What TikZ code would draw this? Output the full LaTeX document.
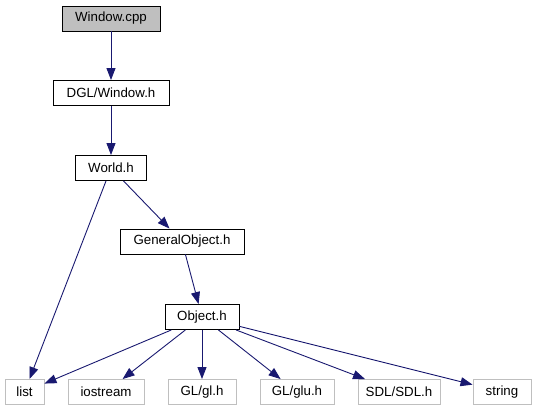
\documentclass[tikz,border=0pt]{standalone}
\usepackage{fontspec}
\setmainfont{Liberation Sans}
\definecolor{edgeblue}{RGB}{25,25,112}
\definecolor{boxgray}{RGB}{191,191,191}
\usetikzlibrary{arrows.meta}

\begin{document}
\begin{tikzpicture}[x=1pt, y=-1pt,
  filebox/.style={draw=black, fill=white, line width=0.9pt, minimum height=25pt, inner sep=0pt, font=\fontsize{13.3}{15}\selectfont},
  sysbox/.style={filebox, draw=boxgray},
  incl/.style={-{Triangle[length=12pt,width=9pt]}, edgeblue, line width=0.9pt}]
  \useasboundingbox (0,0) rectangle (536,411);

  %% project headers
  \node[filebox, fill=boxgray, minimum width=98pt]  (wcpp)   at (111,18.5) {Window.cpp};
  \node[filebox, minimum width=116pt] (dglwin) at (111,93)   {DGL/Window.h};
  \node[filebox, minimum width=71pt]  (world)  at (111,168)  {World.h};
  \node[filebox, minimum width=124pt] (genobj) at (182,241.5) {GeneralObject.h};
  \node[filebox, minimum width=74pt]  (obj)    at (202,317)  {Object.h};

  %% system headers
  \node[sysbox, minimum width=39pt] (list)   at (24.5,392) {list};
  \node[sysbox, minimum width=76pt] (iostr)  at (106,392)  {iostream};
  \node[sysbox, minimum width=68pt] (glh)    at (202,392)  {GL/gl.h};
  \node[sysbox, minimum width=74pt] (gluh)   at (297,392)  {GL/glu.h};
  \node[sysbox, minimum width=82pt] (sdlh)   at (399,392)  {SDL/SDL.h};
  \node[sysbox, minimum width=58pt] (string) at (502,392)  {string};

  %% includes
  \draw[incl] (wcpp)   -- (dglwin);
  \draw[incl] (dglwin) -- (world);
  \draw[incl] (world)  -- (genobj);
  \draw[incl] (world)  -- (list);
  \draw[incl] (genobj) -- (obj);
  \draw[incl] (obj) -- (list);
  \draw[incl] (obj) -- (iostr);
  \draw[incl] (obj) -- (glh);
  \draw[incl] (obj) -- (gluh);
  \draw[incl] (obj) -- (sdlh);
  \draw[incl] (obj) -- (string);
\end{tikzpicture}
\end{document}
